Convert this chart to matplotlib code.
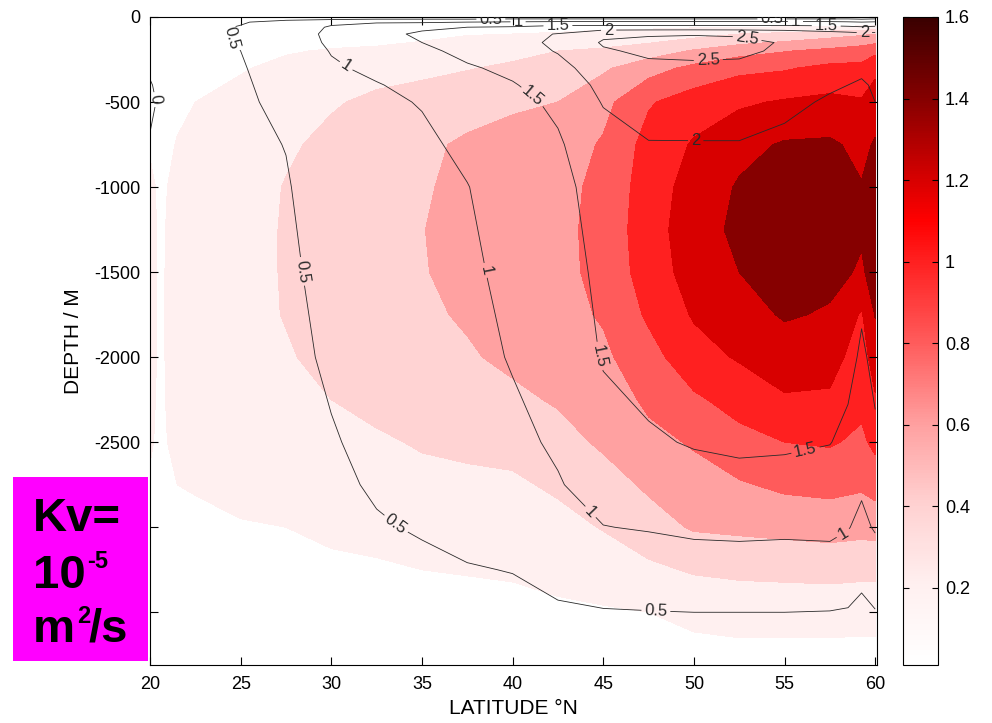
import numpy as np
import matplotlib
matplotlib.use('Agg')
import matplotlib.pyplot as plt
from matplotlib.colors import LinearSegmentedColormap, Normalize
from matplotlib.cm import ScalarMappable
from matplotlib.patches import Rectangle

plt.rcParams['font.family'] = ['Liberation Sans', 'DejaVu Sans']
plt.rcParams['axes.unicode_minus'] = False

# filled field (colour shading), one depth profile per latitude
lat_fill = [20, 20.6, 21.5, 22.5, 25, 27.5, 30, 32.5, 35, 37.5, 40, 42.5, 45, 47.5, 50, 52.5, 55, 57.5, 59.25, 60]
depth_fill = [0, -50, -100, -200, -300, -500, -750, -1000, -1250, -1500, -1750, -2000,
              -2250, -2500, -2750, -3000, -3250, -3500, -3800]
fill_profiles = [
    [0.04, 0.07, 0.10, 0.12, 0.14, 0.17, 0.19, 0.22, 0.23, 0.23, 0.23, 0.23, 0.22, 0.21, 0.19, 0.15, 0.10, 0.07, 0.05],
    [0.04, 0.07, 0.10, 0.12, 0.14, 0.16, 0.17, 0.18, 0.18, 0.18, 0.18, 0.18, 0.18, 0.18, 0.17, 0.14, 0.10, 0.07, 0.05],
    [0.04, 0.07, 0.10, 0.13, 0.15, 0.18, 0.205, 0.23, 0.25, 0.26, 0.26, 0.26, 0.25, 0.23, 0.20, 0.16, 0.12, 0.08, 0.05],
    [0.04, 0.07, 0.10, 0.13, 0.15, 0.20, 0.24, 0.27, 0.29, 0.30, 0.30, 0.30, 0.28, 0.25, 0.21, 0.17, 0.12, 0.08, 0.05],
    [0.05, 0.08, 0.11, 0.16, 0.19, 0.24, 0.28, 0.31, 0.33, 0.33, 0.33, 0.33, 0.31, 0.29, 0.24, 0.19, 0.14, 0.10, 0.06],
    [0.05, 0.09, 0.13, 0.19, 0.23, 0.30, 0.37, 0.41, 0.415, 0.415, 0.41, 0.38, 0.36, 0.32, 0.27, 0.20, 0.15, 0.10, 0.06],
    [0.05, 0.09, 0.14, 0.21, 0.28, 0.38, 0.45, 0.48, 0.50, 0.50, 0.49, 0.46, 0.40, 0.35, 0.29, 0.23, 0.17, 0.11, 0.07],
    [0.05, 0.10, 0.15, 0.22, 0.33, 0.44, 0.50, 0.54, 0.56, 0.56, 0.55, 0.52, 0.46, 0.37, 0.31, 0.25, 0.18, 0.12, 0.07],
    [0.05, 0.11, 0.17, 0.24, 0.36, 0.47, 0.56, 0.58, 0.595, 0.59, 0.57, 0.54, 0.49, 0.42, 0.34, 0.28, 0.20, 0.13, 0.08],
    [0.05, 0.12, 0.19, 0.30, 0.39, 0.52, 0.63, 0.65, 0.66, 0.65, 0.62, 0.58, 0.52, 0.44, 0.36, 0.29, 0.21, 0.14, 0.08],
    [0.05, 0.12, 0.20, 0.35, 0.43, 0.57, 0.67, 0.72, 0.74, 0.73, 0.70, 0.64, 0.56, 0.46, 0.37, 0.30, 0.22, 0.15, 0.09],
    [0.05, 0.12, 0.22, 0.40, 0.48, 0.60, 0.70, 0.74, 0.75, 0.75, 0.73, 0.70, 0.62, 0.53, 0.43, 0.34, 0.25, 0.17, 0.10],
    [0.05, 0.13, 0.26, 0.43, 0.57, 0.74, 0.82, 0.85, 0.86, 0.85, 0.82, 0.76, 0.68, 0.63, 0.52, 0.41, 0.30, 0.18, 0.10],
    [0.05, 0.14, 0.28, 0.50, 0.72, 0.98, 1.07, 1.10, 1.12, 1.10, 1.03, 0.93, 0.84, 0.74, 0.63, 0.52, 0.36, 0.20, 0.10],
    [0.05, 0.15, 0.33, 0.62, 0.85, 1.10, 1.22, 1.28, 1.30, 1.28, 1.22, 1.12, 0.97, 0.82, 0.72, 0.62, 0.42, 0.25, 0.12],
    [0.05, 0.15, 0.40, 0.72, 0.95, 1.17, 1.34, 1.42, 1.45, 1.40, 1.32, 1.22, 1.07, 0.94, 0.78, 0.64, 0.44, 0.28, 0.12],
    [0.05, 0.15, 0.45, 0.79, 0.98, 1.22, 1.42, 1.52, 1.55, 1.50, 1.42, 1.30, 1.18, 1.00, 0.84, 0.66, 0.45, 0.28, 0.12],
    [0.05, 0.17, 0.52, 0.85, 1.05, 1.25, 1.43, 1.50, 1.50, 1.45, 1.38, 1.28, 1.17, 1.02, 0.86, 0.68, 0.46, 0.28, 0.12],
    [0.05, 0.18, 0.57, 0.90, 1.05, 1.22, 1.35, 1.41, 1.42, 1.38, 1.18, 1.10, 1.05, 0.96, 0.83, 0.66, 0.45, 0.27, 0.12],
    [0.05, 0.20, 0.60, 0.95, 1.15, 1.30, 1.42, 1.48, 1.50, 1.46, 1.41, 1.30, 1.18, 1.05, 0.88, 0.67, 0.45, 0.27, 0.12],
]

# line field (black labelled contours), one depth profile per latitude
lat_line = [20, 22.5, 25, 27.5, 30, 32.5, 35, 37.5, 40, 42.5, 45, 47.5, 50, 52.5, 55, 57.5, 58.5, 59.25, 60]
depth_line = [0, -15, -30, -60, -100, -150, -200, -300, -400, -500, -750, -1000, -1500, -2000,
              -2500, -2750, -3000, -3250, -3500, -3800]
line_profiles = [
    [0.10, 0.15, 0.20, 0.20, 0.15, 0.12, 0.10, 0.04, -0.02, -0.05, 0.02, 0.06, 0.10, 0.12, 0.15, 0.15, 0.12, 0.10, 0.08, 0.05],
    [0.15, 0.30, 0.38, 0.40, 0.40, 0.38, 0.36, 0.35, 0.34, 0.33, 0.32, 0.30, 0.28, 0.26, 0.25, 0.22, 0.18, 0.15, 0.12, 0.08],
    [0.20, 0.38, 0.47, 0.52, 0.53, 0.52, 0.50, 0.47, 0.45, 0.43, 0.40, 0.38, 0.36, 0.34, 0.32, 0.28, 0.24, 0.20, 0.16, 0.10],
    [0.20, 0.45, 0.62, 0.72, 0.75, 0.74, 0.72, 0.68, 0.63, 0.60, 0.51, 0.47, 0.42, 0.39, 0.36, 0.33, 0.30, 0.25, 0.20, 0.13],
    [0.20, 0.50, 0.90, 1.05, 1.10, 1.07, 1.02, 0.95, 0.90, 0.85, 0.78, 0.72, 0.64, 0.56, 0.47, 0.43, 0.38, 0.30, 0.24, 0.15],
    [0.20, 0.55, 0.95, 1.25, 1.35, 1.30, 1.22, 1.08, 0.98, 0.93, 0.86, 0.82, 0.75, 0.68, 0.60, 0.54, 0.47, 0.38, 0.30, 0.18],
    [0.20, 0.55, 0.95, 1.40, 1.58, 1.50, 1.40, 1.22, 1.10, 1.02, 0.93, 0.90, 0.85, 0.78, 0.70, 0.62, 0.53, 0.43, 0.33, 0.20],
    [0.20, 0.55, 1.00, 1.50, 1.75, 1.72, 1.62, 1.45, 1.32, 1.22, 1.08, 0.99, 0.93, 0.86, 0.78, 0.70, 0.60, 0.48, 0.37, 0.23],
    [0.20, 0.60, 1.05, 1.55, 1.85, 1.85, 1.78, 1.60, 1.47, 1.38, 1.25, 1.18, 1.10, 1.03, 0.90, 0.80, 0.68, 0.51, 0.40, 0.25],
    [0.20, 0.60, 1.10, 1.70, 2.02, 2.08, 2.03, 1.85, 1.70, 1.58, 1.45, 1.38, 1.30, 1.20, 1.06, 0.97, 0.80, 0.60, 0.46, 0.30],
    [0.20, 0.60, 1.10, 1.70, 2.40, 2.55, 2.45, 2.25, 2.12, 2.03, 1.80, 1.68, 1.60, 1.53, 1.35, 1.18, 0.99, 0.70, 0.48, 0.30],
    [0.20, 0.60, 1.10, 1.70, 2.45, 2.62, 2.58, 2.40, 2.28, 2.18, 1.98, 1.85, 1.75, 1.65, 1.45, 1.25, 1.03, 0.75, 0.49, 0.30],
    [0.20, 0.60, 1.10, 1.70, 2.47, 2.65, 2.60, 2.42, 2.30, 2.20, 1.98, 1.88, 1.78, 1.70, 1.53, 1.35, 1.08, 0.80, 0.50, 0.30],
    [0.20, 0.60, 1.10, 1.70, 2.45, 2.60, 2.57, 2.42, 2.30, 2.20, 1.98, 1.88, 1.80, 1.72, 1.56, 1.40, 1.10, 0.80, 0.50, 0.30],
    [0.20, 0.60, 1.10, 1.70, 2.35, 2.47, 2.44, 2.30, 2.18, 2.08, 1.92, 1.85, 1.78, 1.72, 1.55, 1.38, 1.08, 0.80, 0.50, 0.30],
    [0.20, 0.60, 1.10, 1.65, 2.20, 2.25, 2.22, 2.12, 2.04, 1.96, 1.85, 1.80, 1.72, 1.65, 1.51, 1.35, 1.10, 0.80, 0.49, 0.30],
    [0.20, 0.60, 1.05, 1.60, 2.15, 2.20, 2.17, 2.08, 2.00, 1.93, 1.83, 1.77, 1.70, 1.60, 1.42, 1.25, 1.02, 0.75, 0.47, 0.30],
    [0.20, 0.55, 1.00, 1.55, 2.10, 2.15, 2.12, 2.05, 1.97, 1.90, 1.80, 1.72, 1.60, 1.45, 1.20, 1.06, 0.90, 0.62, 0.40, 0.25],
    [0.20, 0.60, 1.05, 1.60, 2.12, 2.17, 2.14, 2.08, 2.03, 2.00, 1.88, 1.80, 1.70, 1.58, 1.45, 1.25, 1.04, 0.75, 0.48, 0.30],
]

fill_levels = [0, 0.2, 0.4, 0.6, 0.8, 1.0, 1.2, 1.4, 1.6]
line_levels = [0, 0.5, 1, 1.5, 2, 2.5]
cbar_ticks = [0.2, 0.4, 0.6, 0.8, 1.0, 1.2, 1.4, 1.6]
depth_ticks = [0, -500, -1000, -1500, -2000, -2500, -3000, -3500]
# the two deepest labels sit under the magenta box
depth_ticklabels = ['0', '-500', '-1000', '-1500', '-2000', '-2500', '', '']

# white -> red -> dark red colour scale
cmap_vals = [0, 0.2, 0.4, 0.6, 0.8, 1.0, 1.1, 1.2, 1.4, 1.6]
cmap_cols = ['#ffffff', '#fff0f0', '#ffd2d2', '#ffa0a0', '#ff5c5c', '#ff2020',
             '#ff0000', '#d80000', '#860000', '#3a0000']
vmin, vmax = 0.01, 1.6
cmap = LinearSegmentedColormap.from_list(
    'wr', [((v - vmin) / (vmax - vmin) if v > vmin else 0, c) for v, c in zip(cmap_vals, cmap_cols)])
norm = Normalize(vmin, vmax)

G = np.array(fill_profiles).T
F = np.array(line_profiles).T

fig = plt.figure(figsize=(9.92, 7.23), dpi=100)
ax = fig.add_axes([150 / 992, 1 - 665 / 723, 727 / 992, 648 / 723])

band_cols = [cmap(norm(l)) for l in fill_levels[:-1]]
ax.contourf(lat_fill, depth_fill, G, levels=fill_levels, colors=band_cols)

cs = ax.contour(lat_line, depth_line, F, levels=line_levels, colors='#2a2a2a', linewidths=0.6)
label_pos = [(24.6, -120), (28.8, -1490), (33.5, -2990), (47.9, -3500), (20.1, -490),
             (30.8, -290), (38.5, -1490), (44.3, -2910), (58.6, -3100),
             (41.0, -480), (44.3, -2000), (56.1, -2520), (50.1, -740),
             (52.9, -150), (50.8, -270),
             (38.8, -6), (40.3, -20), (42.5, -45), (45.3, -70),
             (54.3, -6), (55.6, -20), (57.3, -45), (59.4, -75)]
ax.clabel(cs, fmt=lambda v: f'{v:g}', fontsize=12, inline=True, inline_spacing=3, manual=label_pos)

ax.set_xlim(20, 60.1)
ax.set_ylim(-3810, 0)
ax.set_xticks(range(20, 61, 5))
ax.set_yticks(depth_ticks)
ax.set_yticklabels(depth_ticklabels)
ax.tick_params(direction='in', top=True, right=True, length=6, labelsize=13, width=0.8)
ax.tick_params(axis='x', pad=8)
ax.tick_params(axis='y', pad=7)
ax.set_xlabel('LATITUDE °N', fontsize=15, labelpad=4)
ax.set_ylabel('DEPTH / M', fontsize=15, labelpad=8)
for s in ax.spines.values():
    s.set_linewidth(0.8)

cax = fig.add_axes([903 / 992, 1 - 665 / 723, 35 / 992, 648 / 723])
cb = fig.colorbar(ScalarMappable(norm=norm, cmap=cmap), cax=cax, ticks=cbar_ticks)
cb.ax.set_yticklabels([f'{t:g}' for t in cbar_ticks])
cb.ax.tick_params(direction='in', left=True, right=True, length=4, labelsize=13, width=0.8, pad=5)
cb.outline.set_linewidth(0.8)

# magenta annotation box
fig.add_artist(Rectangle((13 / 992, 1 - 661 / 723), 135 / 992, 184 / 723,
                         transform=fig.transFigure, facecolor='#ff00ff', edgecolor='none', zorder=5))
box_txt = dict(fontweight='bold', zorder=6)
fig.text(33 / 992, 1 - 531 / 723, 'Kv=', fontsize=34, **box_txt)
fig.text(33 / 992, 1 - 588 / 723, '10', fontsize=34, **box_txt)
fig.text(87 / 992, 1 - 568 / 723, '-5', fontsize=17, **box_txt)
fig.text(33 / 992, 1 - 642 / 723, 'm', fontsize=34, **box_txt)
fig.text(77 / 992, 1 - 623 / 723, '2', fontsize=17, **box_txt)
fig.text(89 / 992, 1 - 642 / 723, '/s', fontsize=34, **box_txt)

fig.savefig('out.png', dpi=100)
